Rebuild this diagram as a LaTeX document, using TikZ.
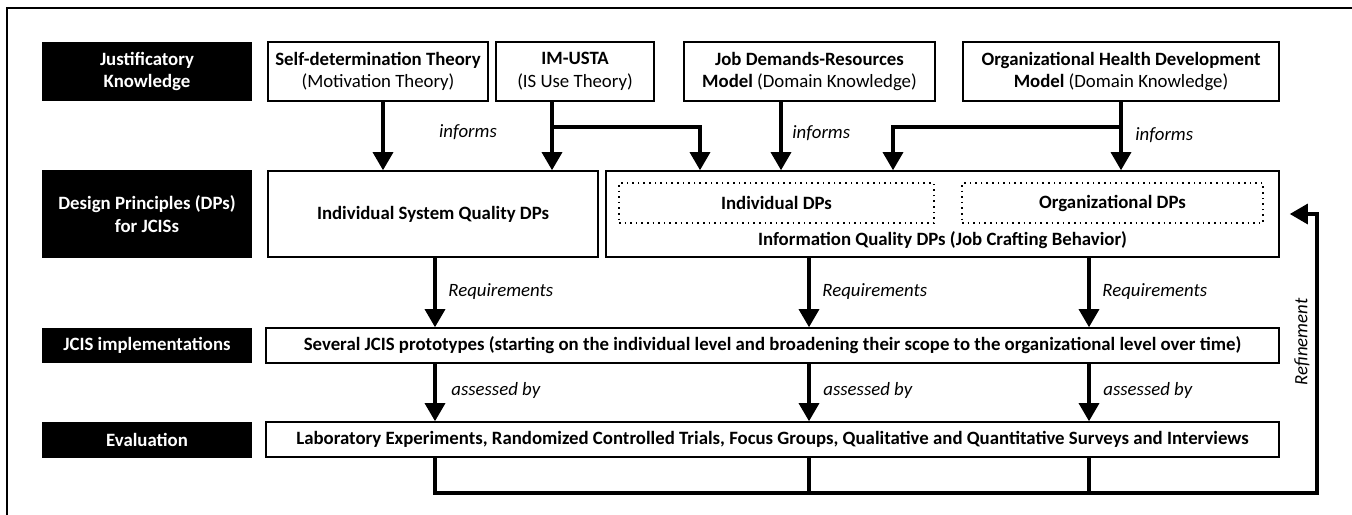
\documentclass[tikz,border=0pt]{standalone}
\usepackage{fontspec}
\setmainfont{Carlito}
\usetikzlibrary{arrows.meta}
\begin{document}
\begin{tikzpicture}[x=0.5pt,y=-0.5pt,
  every node/.style={font=\fontsize{9.4}{11.2}\selectfont, inner sep=0pt, align=center},
  rowlabel/.style={fill=black, text=white, font=\fontsize{9.4}{11.2}\selectfont\bfseries, minimum width=105pt},
  box/.style={draw, line width=0.8pt, fill=white},
  dotbox/.style={draw, dotted, line width=0.8pt},
  flow/.style={line width=1.6pt, -{Triangle[width=10pt,length=9pt]}},
  link/.style={line width=1.6pt},
  tag/.style={font=\fontsize{9.4}{11.2}\selectfont\itshape, anchor=west},
]
\clip (0,0) rectangle (1352,514);
\useasboundingbox (0,0) rectangle (1352,514);
% outer frame
\draw[line width=1pt] (7,8) rectangle (1400,560);

% row labels
\node[rowlabel, minimum height=29.5pt] (lab1) at (147,71.5) {Justificatory\\Knowledge};
\node[rowlabel, minimum height=44pt] (lab2) at (147,214) {Design Principles (DPs)\\for JCISs};
\node[rowlabel, minimum height=17.5pt] (lab3) at (147,345.5) {JCIS implementations};
\node[rowlabel, minimum height=18pt] (lab4) at (147,439.5) {Evaluation};

% justificatory knowledge
\node[box, minimum width=110pt, minimum height=29.5pt] (sdt) at (378,71.5) {\textbf{Self-determination Theory}\\(Motivation Theory)};
\node[box, minimum width=79pt, minimum height=29.5pt] (ims) at (575,71.5) {\textbf{IM-USTA}\\(IS Use Theory)};
\node[box, minimum width=125.5pt, minimum height=29.5pt] (jdr) at (809.5,71.5) {\textbf{Job Demands-Resources}\\\textbf{Model} (Domain Knowledge)};
\node[box, minimum width=158pt, minimum height=29.5pt] (ohd) at (1121,71.5) {\textbf{Organizational Health Development}\\\textbf{Model} (Domain Knowledge)};

% design principles
\node[box, minimum width=165pt, minimum height=43pt] (isq) at (433,214) {\bfseries Individual System Quality DPs};
\node[box, minimum width=336.5pt, minimum height=43pt] (iq) at (942.5,214) {};
\node[dotbox, minimum width=157.5pt, minimum height=20pt] (ind) at (776.5,203) {\bfseries Individual DPs};
\node[dotbox, minimum width=150.5pt, minimum height=20pt] (org) at (1112.5,203) {\bfseries Organizational DPs};
\node (iqt) at (942.5,240) {\bfseries Information Quality DPs (Job Crafting Behavior)};

% implementations and evaluation
\node[box, minimum width=506.5pt, minimum height=17.5pt] (jcis) at (772.5,345.5) {\bfseries Several JCIS prototypes (starting on the individual level and broadening their scope to the organizational level over time)};
\node[box, minimum width=506.5pt, minimum height=17.5pt] (eval) at (772.5,439.5) {\bfseries Laboratory Experiments, Randomized Controlled Trials, Focus Groups, Qualitative and Quantitative Surveys and Interviews};

% connector columns
\coordinate (a1) at (383,0);
\coordinate (a2) at (552,0);
\coordinate (a3) at (700,0);
\coordinate (a4) at (781,0);
\coordinate (a5) at (893,0);
\coordinate (a6) at (1121,0);
\coordinate (br) at (0,127);
\coordinate (b1) at (435,0);
\coordinate (b2) at (809,0);
\coordinate (b3) at (1089,0);
\coordinate (fb) at (1317,493);

% informs
\draw[flow] (sdt.south -| a1) -- (isq.north -| a1);
\draw[flow] (ims.south -| a2) -- (isq.north -| a2);
\draw[flow] (a2 |- br) -- (a3 |- br) -- (iq.north -| a3);
\draw[flow] (jdr.south -| a4) -- (iq.north -| a4);
\draw[flow] (ohd.south -| a6) -- (iq.north -| a6);
\draw[flow] (a6 |- br) -- (a5 |- br) -- (iq.north -| a5);

% requirements
\draw[flow] (isq.south -| b1) -- (jcis.north -| b1);
\draw[flow] (iq.south -| b2) -- (jcis.north -| b2);
\draw[flow] (iq.south -| b3) -- (jcis.north -| b3);

% assessed by
\draw[flow] (jcis.south -| b1) -- (eval.north -| b1);
\draw[flow] (jcis.south -| b2) -- (eval.north -| b2);
\draw[flow] (jcis.south -| b3) -- (eval.north -| b3);

% refinement loop
\draw[flow, shorten >=5pt] (eval.south -| b1) -- (b1 |- fb) -- (fb) -- (fb |- iq.east) -- (iq.east);
\draw[link] (eval.south -| b2) -- (b2 |- fb);
\draw[link] (eval.south -| b3) -- (b3 |- fb);

% connector labels
\node[tag, anchor=center] (inf1) at (468,132) {informs};
\node[tag] (inf2) at (792,133) {informs};
\node[tag] (inf3) at (1135,135) {informs};
\node[tag] (rq1) at (448,292) {Requirements};
\node[tag] (rq2) at (822,292) {Requirements};
\node[tag] (rq3) at (1102,292) {Requirements};
\node[tag] (as1) at (451,390) {assessed by};
\node[tag] (as2) at (823,390) {assessed by};
\node[tag] (as3) at (1103,390) {assessed by};
\node[tag, rotate=90, anchor=center] (ref) at (1302,342) {Refinement};
\end{tikzpicture}
\end{document}
